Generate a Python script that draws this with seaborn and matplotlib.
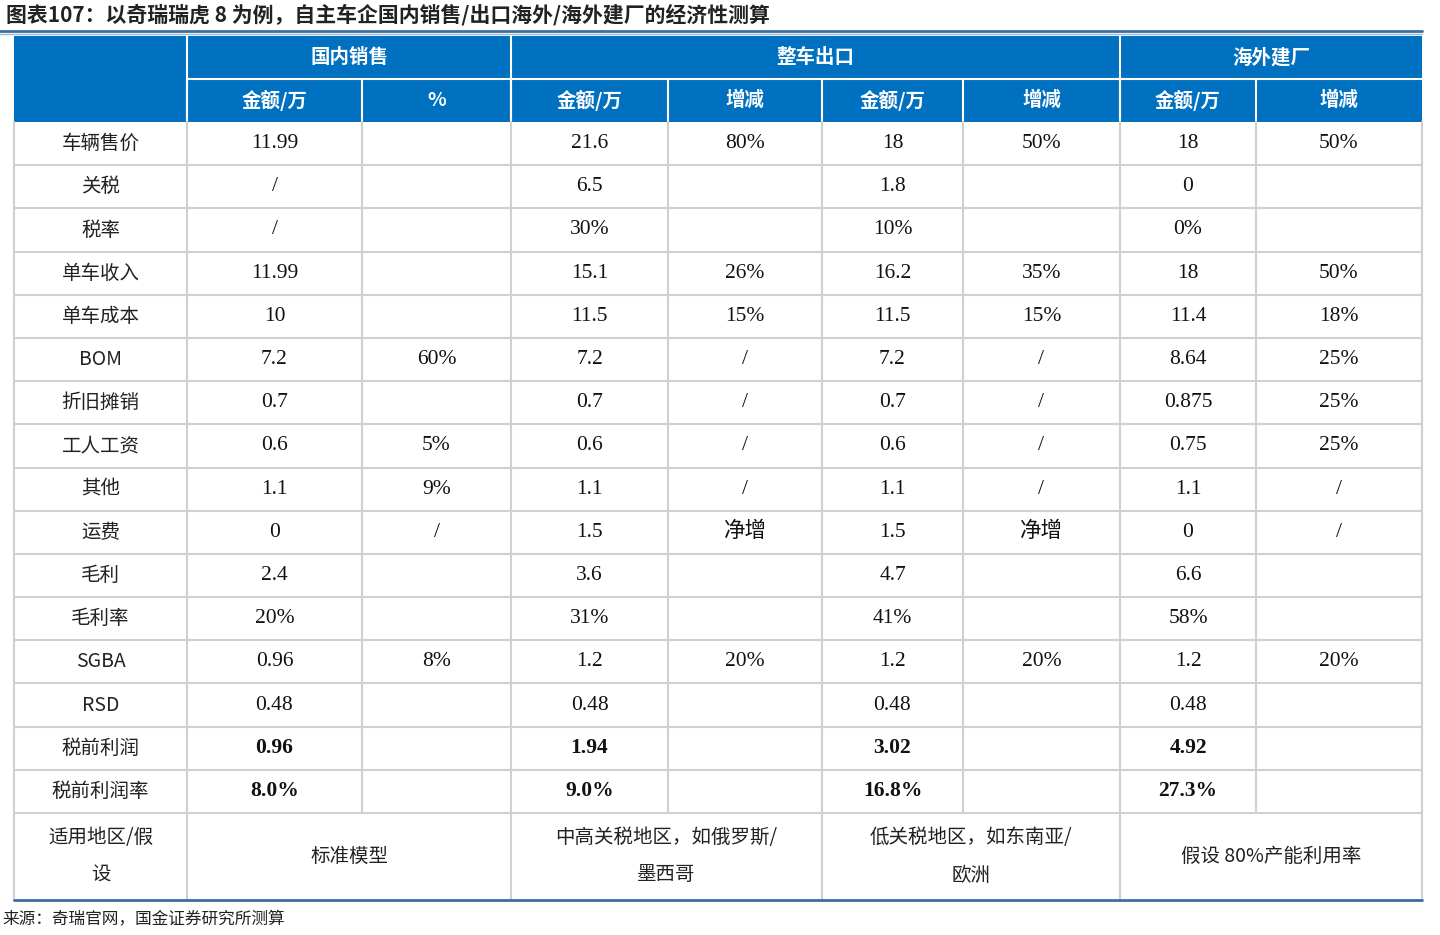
import matplotlib.pyplot as plt
import seaborn as sns

sns.set_theme(style="white")
plt.rcParams['font.family'] = ['Noto Sans CJK SC', 'DejaVu Sans']

title = "图表107：以奇瑞瑞虎 8 为例，自主车企国内销售/出口海外/海外建厂的经济性测算"
source = "来源：奇瑞官网，国金证券研究所测算"
groups = ["国内销售", "整车出口", "海外建厂"]
group_spans = [(1, 3), (3, 7), (7, 9)]
sub_headers = ["金额/万", "%", "金额/万", "增减", "金额/万", "增减", "金额/万", "增减"]
row_labels = ["车辆售价", "关税", "税率", "单车收入", "单车成本", "BOM", "折旧摊销", "工人工资",
              "其他", "运费", "毛利", "毛利率", "SGBA", "RSD", "税前利润", "税前利润率"]
domestic_amt = ["11.99", "/", "/", "11.99", "10", "7.2", "0.7", "0.6", "1.1", "0", "2.4", "20%", "0.96", "0.48", "0.96", "8.0%"]
domestic_pct = ["", "", "", "", "", "60%", "", "5%", "9%", "/", "", "", "8%", "", "", ""]
export_hi_amt = ["21.6", "6.5", "30%", "15.1", "11.5", "7.2", "0.7", "0.6", "1.1", "1.5", "3.6", "31%", "1.2", "0.48", "1.94", "9.0%"]
export_hi_chg = ["80%", "", "", "26%", "15%", "/", "/", "/", "/", "净增", "", "", "20%", "", "", ""]
export_lo_amt = ["18", "1.8", "10%", "16.2", "11.5", "7.2", "0.7", "0.6", "1.1", "1.5", "4.7", "41%", "1.2", "0.48", "3.02", "16.8%"]
export_lo_chg = ["50%", "", "", "35%", "15%", "/", "/", "/", "/", "净增", "", "", "20%", "", "", ""]
plant_amt = ["18", "0", "0%", "18", "11.4", "8.64", "0.875", "0.75", "1.1", "0", "6.6", "58%", "1.2", "0.48", "4.92", "27.3%"]
plant_chg = ["50%", "", "", "50%", "18%", "25%", "25%", "25%", "/", "/", "", "", "20%", "", "", ""]
last_row = ["适用地区/假\n设", "标准模型", "中高关税地区，如俄罗斯/\n墨西哥", "低关税地区，如东南亚/\n欧洲", "假设 80%产能利用率"]

columns = [domestic_amt, domestic_pct, export_hi_amt, export_hi_chg,
           export_lo_amt, export_lo_chg, plant_amt, plant_chg]
bold_rows = {"税前利润", "税前利润率"}

xs = [14, 187, 362, 511, 668, 822, 963, 1120, 1256, 1422]
top, mid, body = 36, 79, 122
rh = (813 - 122) / 16
bottom = 900
blue = "#0070C0"
grid = "#d0d0d0"

fig = plt.figure(figsize=(14.4, 9.35), dpi=100)
ax = fig.add_axes([0, 0, 1, 1])
ax.set_xlim(0, 1440)
ax.set_ylim(935, 0)
ax.axis("off")

ax.text(6, 15, title, fontsize=15, fontweight="bold", style="italic", va="center", color="#222222")
ax.plot([0, 1422], [31, 31], color="#3a6ea5", lw=2)
ax.plot([0, 1422], [34, 34], color="#9db7d3", lw=1)

# header
ax.add_patch(plt.Rectangle((xs[0], top), xs[-1] - xs[0], body - top, color=blue, lw=0))
for g, (a, b) in zip(groups, group_spans):
    x0, x1 = xs[a], xs[b]
    ax.text((x0 + x1) / 2, (top + mid) / 2, g, color="white", fontsize=14, fontweight="bold", ha="center", va="center")
    ax.plot([x0, x0], [top, body], color="white", lw=1.5)
ax.plot([xs[1], xs[-1]], [mid, mid], color="white", lw=1.5)
for j, h in enumerate(sub_headers):
    x0, x1 = xs[1 + j], xs[2 + j]
    ax.text((x0 + x1) / 2, (mid + body) / 2, h, color="white", fontsize=14, fontweight="bold", ha="center", va="center")
    ax.plot([x0, x0], [mid, body], color="white", lw=1.5)

# body
for r, lab in enumerate(row_labels):
    y = body + r * rh + rh / 2
    fw = "bold" if lab in bold_rows else "normal"
    ax.text((xs[0] + xs[1]) / 2, y, lab, fontsize=14, ha="center", va="center", color="#222222")
    for j, col in enumerate(columns):
        ax.text((xs[1 + j] + xs[2 + j]) / 2, y, col[r], fontsize=15.5, fontweight=fw,
                family=["Liberation Serif", "Noto Sans CJK SC"], ha="center", va="center", color="#111111")
    ax.plot([xs[0], xs[-1]], [body + (r + 1) * rh] * 2, color=grid, lw=1.5)

last_x = [(xs[0], xs[1]), (xs[1], xs[3]), (xs[3], xs[5]), (xs[5], xs[7]), (xs[7], xs[9])]
for (x0, x1), t in zip(last_x, last_row):
    ax.text((x0 + x1) / 2, (813 + bottom) / 2, t, fontsize=14, ha="center", va="center",
            linespacing=2.0, color="#222222")

# vertical lines in body
for x in xs:
    ax.plot([x, x], [body, 813], color=grid, lw=1.5)
for x in [xs[0], xs[1], xs[3], xs[5], xs[7], xs[9]]:
    ax.plot([x, x], [813, bottom], color=grid, lw=1.5)
ax.plot([xs[0], xs[-1]], [bottom, bottom], color="#3a6ea5", lw=2)

ax.text(2, 920, source, fontsize=12, va="center", color="#222222")

fig.savefig("out.png", dpi=100)
